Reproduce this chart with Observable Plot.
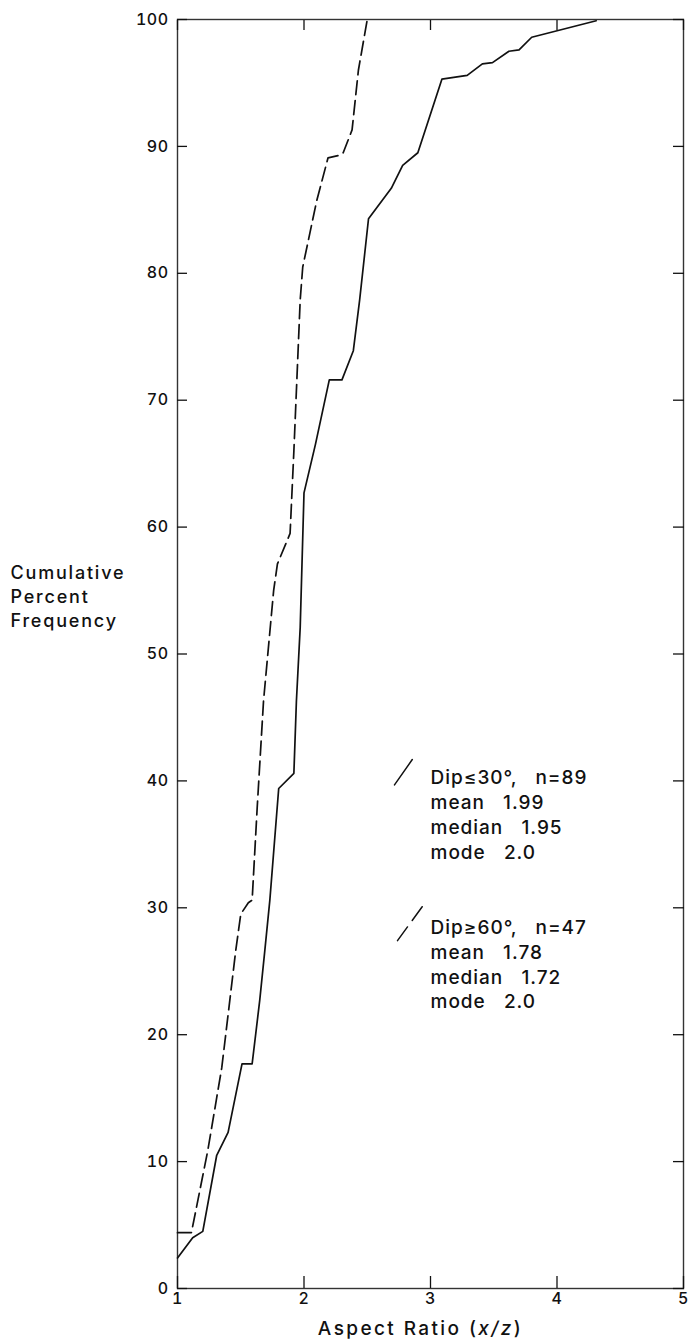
<!DOCTYPE html>
<html><head><meta charset="utf-8">
<script src="https://cdn.jsdelivr.net/npm/d3@7"></script>
<script src="https://cdn.jsdelivr.net/npm/@observablehq/plot@0.6"></script>
<style>
body{margin:0;background:#fff}
svg{font-family:Inter,"Liberation Sans",Arial,sans-serif;font-weight:500}
svg text{font-weight:500}
g[aria-label="y-axis tick label"] text, g[aria-label="x-axis tick label"] text{letter-spacing:0.5px}
g[aria-description="legend"] text{letter-spacing:1px;word-spacing:3px}
g[aria-description="y-title"] text{letter-spacing:1.8px}
g[aria-description="x-title"] text{letter-spacing:2.4px}
</style></head><body><div id="chart"></div>
<script>
// Dip <= 30 deg (solid curve)
const lowX = [1.00,1.12,1.20,1.31,1.40,1.51,1.59,1.65,1.69,1.73,1.80,1.92,1.94,1.97,2.00,2.09,2.20,2.30,2.39,2.44,2.51,2.69,2.78,2.90,3.09,3.29,3.41,3.49,3.62,3.70,3.80,4.31];
const lowY = [2.4,4.0,4.5,10.5,12.3,17.7,17.7,22.7,26.6,30.6,39.4,40.6,46.3,52.1,62.7,66.5,71.6,71.6,73.9,77.9,84.3,86.7,88.5,89.5,95.3,95.6,96.5,96.6,97.5,97.6,98.6,99.9];
// Dip >= 60 deg (dashed curve)
const highX = [1.00,1.11,1.24,1.35,1.46,1.50,1.56,1.59,1.63,1.68,1.76,1.79,1.89,1.92,1.97,1.99,2.10,2.19,2.28,2.31,2.38,2.43,2.50];
const highY = [4.4,4.4,10.9,17.4,26.6,29.5,30.4,30.6,37.9,46.3,55.0,57.1,59.5,66.0,77.9,80.5,85.7,89.1,89.3,89.5,91.3,96.0,100];

const xTicks = [1,2,3,4,5];
const yTicks = [0,10,20,30,40,50,60,70,80,90,100];

const groups = ["Dip≤30°", "Dip≥60°"];
const counts = [89, 47];
const means = ["1.99", "1.78"];
const medians = ["1.95", "1.72"];
const modes = ["2.0", "2.0"];

const yTitle = "Cumulative\nPercent\nFrequency";
const xLabel = "Aspect Ratio (x/z)";

const low = lowX.map((x, i) => ({x, y: lowY[i]}));
const high = highX.map((x, i) => ({x, y: highY[i]}));
const legend = groups.map((g, i) => ({
  text: `${g},  n=${counts[i]}\nmean  ${means[i]}\nmedian  ${medians[i]}\nmode  ${modes[i]}`
}));

// layout of the legend block (data coordinates of the text anchor)
const legendX = 3.0;
const legendY = [41.1, 29.3];

const slash = {draw(ctx, l) { ctx.moveTo(0, 0); ctx.lineTo(0, -l); }};
const noText = () => "";
const intText = d => String(d);

const chart = Plot.plot({
  width: 690, height: 1339,
  marginLeft: 177, marginRight: 7, marginTop: 19, marginBottom: 51,
  x: {domain: [1, 5]},
  y: {domain: [0, 100]},
  style: {fontFamily: 'Inter, "Liberation Sans", Arial, sans-serif', fontSize: "16px", color: "#111", background: "#fff"},
  marks: [
    Plot.frame({stroke: "#333", strokeWidth: 1.4}),
    Plot.axisY(yTicks, {anchor: "left", tickSize: 0, tickPadding: 9, tickFormat: intText, label: null, fontSize: 16}),
    Plot.axisY(yTicks, {anchor: "left", tickSize: -10, tickFormat: noText, label: null, strokeWidth: 1.3}),
    Plot.axisY(yTicks, {anchor: "right", tickSize: -11, tickFormat: noText, label: null, strokeWidth: 1.3}),
    Plot.axisX(xTicks, {anchor: "bottom", tickSize: 0, tickPadding: 4, tickFormat: intText, label: null, fontSize: 16}),
    Plot.axisX(xTicks, {anchor: "bottom", tickSize: -12, tickFormat: noText, label: null, strokeWidth: 1.3}),
    Plot.axisX(xTicks, {anchor: "top", tickSize: -10, tickFormat: noText, label: null, strokeWidth: 1.3}),
    Plot.line(low, {x: "x", y: "y", stroke: "#111", strokeWidth: 1.7}),
    Plot.line(high, {x: "x", y: "y", stroke: "#111", strokeWidth: 1.7, strokeDasharray: "14,6"}),
    Plot.text(legend, {x: () => legendX, y: (d, i) => legendY[i], text: "text", textAnchor: "start", lineAnchor: "top", lineHeight: 1.3, fontSize: 19, fill: "#111", ariaDescription: "legend"}),
    Plot.vector([legend[0]], {x: () => legendX, y: () => legendY[0], dx: -36, dy: 18, length: 31, rotate: 35, anchor: "start", shape: slash, stroke: "#111", strokeWidth: 1.5}),
    Plot.vector([legend[1]], {x: () => legendX, y: () => legendY[1], dx: -33, dy: 24, length: 42, rotate: 36, anchor: "start", shape: slash, stroke: "#111", strokeWidth: 1.5, strokeDasharray: "17,8"}),
    Plot.text([yTitle], {frameAnchor: "left", dx: -167, dy: -59, textAnchor: "start", lineAnchor: "middle", lineHeight: 1.33, fontSize: 18, fill: "#111", ariaDescription: "y-title"}),
    Plot.text([xLabel], {frameAnchor: "bottom", dx: -10, dy: 33, lineAnchor: "top", fontSize: 19, fill: "#111", ariaDescription: "x-title"})
  ]
});

// italicise the variables in the x-axis label
const xt = chart.querySelector('g[aria-description="x-title"] text');
if (xt) {
  const sel = d3.select(xt);
  sel.text(null);
  sel.append("tspan").text("Aspect Ratio (");
  sel.append("tspan").attr("font-style", "italic").text("x/z");
  sel.append("tspan").text(")");
}

document.getElementById("chart").append(chart);
</script>
</body></html>
